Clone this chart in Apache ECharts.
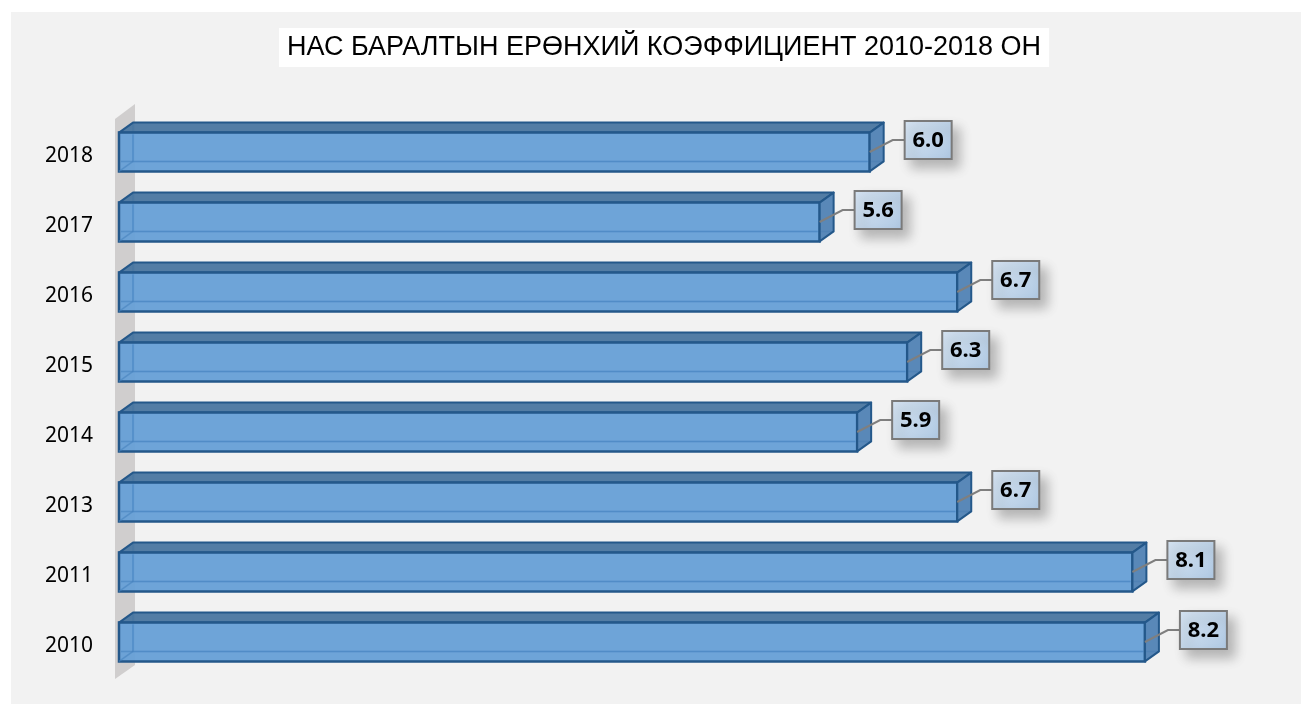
<!DOCTYPE html>
<html>
<head>
<meta charset="utf-8">
<script src="https://cdn.jsdelivr.net/npm/echarts@6/dist/echarts.min.js"></script>
<style>
  html, body { margin: 0; padding: 0; background: #fff; }
  #mainChart { position: absolute; left: 0; top: 0; width: 1301px; height: 704px; }
</style>
</head>
<body>
<div id="mainChart"></div>
<script>
// data, bottom to top
var years = ['2010', '2011', '2013', '2014', '2015', '2016', '2017', '2018'];
var values = [8.2, 8.1, 6.7, 5.9, 6.3, 6.7, 5.6, 6.0];
var titleText = 'НАС БАРАЛТЫН ЕРӨНХИЙ КОЭФФИЦИЕНТ 2010-2018 ОН';

var DX = 14, DY = -10;   // depth of the 3d bars

var chart = echarts.init(document.getElementById('mainChart'));

// grey "wall" behind the bars
function renderWall(params, api) {
    var cs = params.coordSys;
    var x0 = cs.x, top = cs.y, bot = cs.y + cs.height;
    return {
        type: 'polygon',
        shape: { points: [[x0 - 4, top + 2], [x0 + 16, top - 13], [x0 + 16, bot - 12], [x0 - 4, bot + 2]] },
        style: { fill: '#d0cece' }
    };
}

function renderBar(params, api) {
    var v = api.value(0);
    var start = api.coord([0, api.value(1)]);
    var end = api.coord([v, api.value(1)]);
    var h = api.size([0, 1])[1] * 0.555;
    var x0 = start[0], x1 = end[0];
    var y0 = end[1] - h / 2, y1 = end[1] + h / 2;
    var edge = '#24588a';
    var children = [
        // back edges seen through
        { type: 'polyline', shape: { points: [[x0 + DX, y0 + DY], [x0 + DX, y1 + DY], [x1 + DX, y1 + DY]] },
          style: { stroke: '#4a86c2', lineWidth: 1.5, fill: null } },
        // top face
        { type: 'polygon', shape: { points: [[x0, y0], [x0 + DX, y0 + DY], [x1 + DX, y0 + DY], [x1, y0]] },
          style: { fill: 'rgba(74,118,160,0.95)', stroke: edge, lineWidth: 2, lineJoin: 'round' } },
        // front face
        { type: 'rect', shape: { x: x0, y: y0, width: x1 - x0, height: h },
          style: { fill: 'rgba(100,158,214,0.93)', stroke: edge, lineWidth: 2.5 } },
        // inner back edges over the front (translucent look)
        { type: 'polyline', shape: { points: [[x0 + DX, y0 + 2], [x0 + DX, y1 + DY]] },
          style: { stroke: 'rgba(70,130,190,0.6)', lineWidth: 1.5, fill: null } },
        { type: 'polyline', shape: { points: [[x0 + 2, y1 + DY], [x1 - 2, y1 + DY]] },
          style: { stroke: 'rgba(70,130,190,0.6)', lineWidth: 1.5, fill: null } },
        { type: 'polyline', shape: { points: [[x0, y1], [x0 + DX, y1 + DY]] },
          style: { stroke: 'rgba(70,130,190,0.6)', lineWidth: 1.5, fill: null } },
        // right side face
        { type: 'polygon', shape: { points: [[x1, y0], [x1 + DX, y0 + DY], [x1 + DX, y1 + DY], [x1, y1]] },
          style: { fill: 'rgba(80,130,180,0.95)', stroke: edge, lineWidth: 2, lineJoin: 'round' } }
    ];
    // label box with leader line
    var bx = x1 + 35, bw = 47, bh = 38;
    var by = end[1] - 12 - bh / 2;
    children.push({
        type: 'polyline',
        shape: { points: [[x1, end[1]], [bx - 12, end[1] - 12], [bx, end[1] - 12]] },
        style: { stroke: '#7f7f7f', lineWidth: 2, fill: null }
    });
    children.push({
        type: 'rect',
        shape: { x: bx, y: by, width: bw, height: bh },
        style: {
            fill: new echarts.graphic.LinearGradient(0, 0, 1, 1, [
                { offset: 0, color: '#d6e4f2' }, { offset: 1, color: '#b0c9e3' }
            ]),
            stroke: '#7a7a7a', lineWidth: 2,
            shadowBlur: 12, shadowOffsetX: 7, shadowOffsetY: 8, shadowColor: 'rgba(0,0,0,0.25)'
        }
    });
    children.push({
        type: 'text',
        style: {
            text: v.toFixed(1), x: bx + bw / 2, y: by + bh / 2 + 1,
            align: 'center', verticalAlign: 'middle',
            font: 'bold 22px "Noto Sans", "Open Sans", sans-serif', fill: '#000'
        }
    });
    return { type: 'group', children: children };
}

var option = {
    backgroundColor: '#fff',
    animation: false,
    graphic: [{
        type: 'rect', left: 11, top: 12, shape: { width: 1290, height: 692 },
        style: { fill: '#f2f2f2' }, z: -10
    }],
    title: {
        text: titleText,
        left: 279, top: 28,
        padding: [6, 8, 6, 8],
        backgroundColor: '#fff',
        textStyle: { fontFamily: '"Liberation Sans", Arial, sans-serif', fontWeight: 'normal', fontSize: 27, color: '#000' }
    },
    grid: { left: 119, right: 56, top: 117, bottom: 27 },
    xAxis: { type: 'value', min: 0, max: 9, show: false },
    yAxis: {
        type: 'category', data: years,
        axisLine: { show: false }, axisTick: { show: false },
        axisLabel: {
            margin: 26,
            formatter: function (v) { return '{y|' + v + '}'; },
            rich: { y: { fontSize: 21, color: '#000', padding: [9, 0, 0, 0],
                         fontFamily: '"Noto Sans", "Open Sans", sans-serif' } }
        }
    },
    series: [
        { type: 'custom', renderItem: renderWall, data: [[0, years[0]]], encode: { x: 0, y: 1 }, z: 1, silent: true },
        { type: 'custom', renderItem: renderBar, encode: { x: 0, y: 1 }, z: 2,
          data: years.map(function (y, i) { return [values[i], y]; }) }
    ]
};

chart.setOption(option);
</script>
</body>
</html>
